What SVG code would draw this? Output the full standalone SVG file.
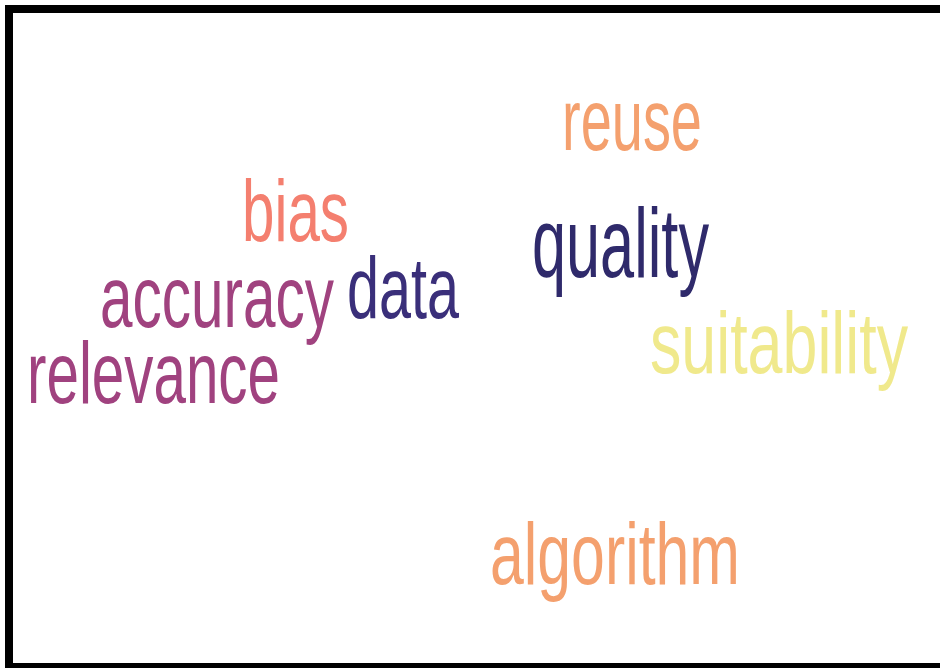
<svg xmlns="http://www.w3.org/2000/svg" width="940" height="668" viewBox="0 0 940 668">
<style>
.w{font-family:"Liberation Sans Narrow","Liberation Sans",Arial,sans-serif;font-size:88px;}
</style>
<rect x="0" y="0" width="940" height="668" fill="#ffffff"/>
<rect x="9" y="9" width="945" height="658" fill="none" stroke="#000000" stroke-width="8"/>
<g id="reuse"><text class="w" x="562" y="150" fill="#F4A06E" textLength="140" lengthAdjust="spacingAndGlyphs">reuse</text></g>
<g id="bias"><text class="w" x="242" y="241" fill="#F47F6F" textLength="107" lengthAdjust="spacingAndGlyphs">bias</text></g>
<g id="quality"><text class="w" x="532" y="277" fill="#2F2A6B" textLength="177" lengthAdjust="spacingAndGlyphs" style="font-size:98px">quality</text></g>
<g id="data"><text class="w" x="347" y="318" fill="#3A2F7A" textLength="112" lengthAdjust="spacingAndGlyphs">data</text></g>
<g id="accuracy"><text class="w" x="100" y="327" fill="#A0427F" textLength="234" lengthAdjust="spacingAndGlyphs">accuracy</text></g>
<g id="relevance"><text class="w" x="27" y="403" fill="#A0427F" textLength="253" lengthAdjust="spacingAndGlyphs">relevance</text></g>
<g id="suitability"><text class="w" x="650" y="373" fill="#F0E98C" textLength="258" lengthAdjust="spacingAndGlyphs">suitability</text></g>
<g id="algorithm"><text class="w" x="490" y="584" fill="#F4A06E" textLength="250" lengthAdjust="spacingAndGlyphs">algorithm</text></g>
</svg>
